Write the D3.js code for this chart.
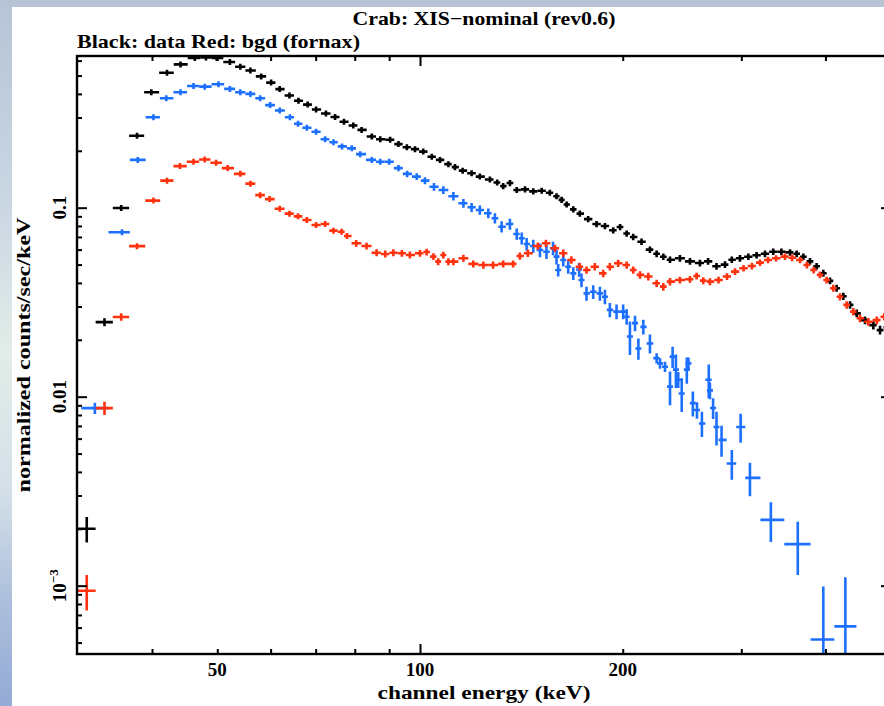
<!DOCTYPE html>
<html>
<head>
<meta charset="utf-8">
<script src="https://cdn.jsdelivr.net/npm/d3@7"></script>
<style>
  html, body { margin: 0; padding: 0; overflow: hidden; background: #fff; }
  svg { display: block; }
  text { font-family: "Liberation Serif", "DejaVu Serif", serif; font-weight: bold; fill: #000; }
</style>
</head>
<body>
<div id="chart"></div>
<script>
// values (keV, counts/sec/keV)
var blackEnergy = [32.0, 34.0, 36.0, 38.0, 39.9, 42.1, 44.1, 46.3, 48.1, 49.9,
  52.2, 54.1, 56.0, 58.1, 60.1, 61.9, 64.0, 66.0, 68.1, 70.1,
  72.5, 74.8, 77.1, 79.6, 81.9, 84.8, 87.3, 90.3, 92.9, 95.6,
  98.3, 101.1, 104.1, 107.1, 110.2, 112.7, 115.7, 119.3, 122.7, 127.0,
  130.2, 132.9, 136.0, 139.2, 143.2, 147.3, 151.6, 155.9, 159.5, 162.3,
  165.1, 168.9, 172.7, 177.7, 182.9, 188.2, 193.6, 198.2, 202.7, 207.3,
  213.3, 219.5, 224.6, 229.8, 235.1, 243.2, 251.7, 260.4, 267.8, 275.6,
  283.7, 290.4, 298.6, 307.3, 316.1, 325.3, 334.6, 344.1, 354.4, 362.5,
  370.9, 379.4, 388.1, 397.1, 406.3, 415.6, 425.2, 435.1, 445.1, 457.9,
  471.2, 482.1, 493.6];
var blackRate = [0.00200, 0.0248, 0.0996, 0.240, 0.408, 0.518, 0.573, 0.620, 0.624, 0.619,
  0.590, 0.557, 0.532, 0.495, 0.459, 0.424, 0.392, 0.368, 0.351, 0.331,
  0.315, 0.302, 0.285, 0.272, 0.258, 0.238, 0.230, 0.229, 0.217, 0.209,
  0.204, 0.198, 0.186, 0.179, 0.170, 0.164, 0.157, 0.152, 0.146, 0.141,
  0.136, 0.130, 0.135, 0.124, 0.125, 0.122, 0.123, 0.120, 0.115, 0.110,
  0.104, 0.098, 0.093, 0.087, 0.082, 0.080, 0.076, 0.079, 0.073, 0.070,
  0.066, 0.060, 0.057, 0.055, 0.053, 0.054, 0.052, 0.051, 0.052, 0.049,
  0.050, 0.053, 0.054, 0.055, 0.056, 0.057, 0.0585, 0.0585, 0.058, 0.057,
  0.055, 0.052, 0.049, 0.045, 0.041, 0.0375, 0.034, 0.0306, 0.0276, 0.0254,
  0.0239, 0.0225, 0.0233];
var blackErr = [0.00031, 0.0012, 0.0025, 0.006, 0.010, 0.012, 0.013, 0.014, 0.014, 0.014,
  0.013, 0.013, 0.012, 0.011, 0.011, 0.010, 0.009, 0.009, 0.008, 0.008,
  0.008, 0.007, 0.007, 0.007, 0.006, 0.006, 0.006, 0.006, 0.006, 0.006,
  0.006, 0.006, 0.006, 0.006, 0.006, 0.006, 0.005, 0.005, 0.005, 0.005,
  0.005, 0.005, 0.005, 0.0045, 0.0045, 0.0045, 0.0045, 0.0045, 0.0042, 0.004,
  0.0038, 0.0036, 0.0035, 0.0033, 0.0031, 0.003, 0.0029, 0.003, 0.0028, 0.0027,
  0.0026, 0.0024, 0.0023, 0.0022, 0.0021, 0.0022, 0.0021, 0.0021, 0.0021, 0.002,
  0.002, 0.0021, 0.0022, 0.0022, 0.0022, 0.0023, 0.0023, 0.0023, 0.0023, 0.0023,
  0.0022, 0.0021, 0.002, 0.0019, 0.0017, 0.0016, 0.0015, 0.0014, 0.0013, 0.0012,
  0.0012, 0.0012, 0.0012];

var blueEnergy = [32.9, 36.1, 38.1, 40.2, 42.0, 44.1, 46.1, 47.9, 50.2, 52.2,
  54.1, 56.0, 57.9, 59.9, 61.9, 64.1, 65.9, 67.9, 70.1, 72.3,
  74.4, 76.6, 79.2, 81.5, 84.8, 87.3, 90.0, 92.9, 95.7, 98.9,
  101.7, 104.9, 108.3, 112.1, 116.0, 119.3, 122.7, 126.3, 129.2, 132.2,
  136.0, 139.2, 141.6, 144.0, 147.3, 150.7, 154.1, 157.6, 159.5, 160.4,
  163.2, 166.0, 168.9, 172.3, 173.7, 176.7, 180.8, 185.0, 188.2, 191.4,
  195.8, 200.3, 202.7, 205.0, 208.6, 211.0, 214.6, 219.5, 224.6, 227.2,
  231.1, 235.1, 237.2, 239.9, 241.8, 244.7, 249.0, 250.4, 254.2, 257.8,
  262.2, 268.4, 269.5, 272.4, 275.6, 280.4, 290.4, 299.3, 309.0, 331.9,
  363.9, 397.1, 428.2];
var blueRate = [0.0087, 0.0741, 0.179, 0.301, 0.379, 0.408, 0.440, 0.437, 0.450, 0.425,
  0.408, 0.400, 0.379, 0.349, 0.327, 0.301, 0.278, 0.265, 0.252, 0.230,
  0.222, 0.211, 0.206, 0.192, 0.179, 0.175, 0.175, 0.162, 0.151, 0.146,
  0.139, 0.129, 0.124, 0.115, 0.1055, 0.1005, 0.0972, 0.0934, 0.0879, 0.0793,
  0.0820, 0.0726, 0.0689, 0.0642, 0.0627, 0.0597, 0.0585, 0.0610, 0.0551, 0.0468,
  0.0529, 0.0487, 0.0449, 0.0471, 0.0414, 0.0352, 0.0359, 0.0352, 0.0338, 0.0288,
  0.0282, 0.0282, 0.0265, 0.0208, 0.0245, 0.0180, 0.0234, 0.0191, 0.0160, 0.0150,
  0.0144, 0.0113, 0.0163, 0.0139, 0.0123, 0.0104, 0.0139, 0.0150, 0.00925, 0.00850,
  0.00721, 0.0123, 0.0108, 0.00871, 0.00691, 0.00591, 0.00443, 0.00691, 0.00372, 0.00223,
  0.00166, 0.000519, 0.000609];
var blueErr = [0.0006, 0.0025, 0.005, 0.008, 0.010, 0.010, 0.011, 0.011, 0.011, 0.011,
  0.010, 0.010, 0.010, 0.009, 0.009, 0.008, 0.008, 0.008, 0.007, 0.007,
  0.007, 0.007, 0.007, 0.006, 0.006, 0.006, 0.006, 0.006, 0.006, 0.006,
  0.006, 0.006, 0.006, 0.006, 0.0055, 0.0055, 0.0055, 0.0055, 0.0055, 0.0055,
  0.0055, 0.005, 0.005, 0.005, 0.005, 0.005, 0.005, 0.005, 0.005, 0.0035,
  0.004, 0.004, 0.0035, 0.004, 0.0035, 0.003, 0.003, 0.003, 0.003, 0.0025,
  0.0025, 0.0025, 0.0025, 0.0042, 0.0023, 0.0023, 0.0021, 0.0022, 0.0010, 0.00095,
  0.0009, 0.0023, 0.0021, 0.0028, 0.0012, 0.0021, 0.0022, 0.0011, 0.0014, 0.00085,
  0.0011, 0.0025, 0.0011, 0.0011, 0.0014, 0.0011, 0.0008, 0.0012, 0.00075, 0.00053,
  0.00052, 0.00047, 0.0005];

var redEnergy = [32.0, 34.0, 36.0, 38.0, 40.2, 42.1, 44.0, 46.1, 47.9, 49.8,
  51.8, 54.1, 56.0, 57.9, 59.8, 61.9, 64.0, 65.9, 67.9, 70.1,
  72.3, 74.4, 76.5, 77.9, 80.4, 83.3, 86.2, 88.8, 91.3, 94.0,
  96.6, 100.0, 102.3, 104.7, 106.4, 108.3, 110.2, 112.1, 116.0, 120.0,
  124.2, 128.4, 132.9, 137.5, 140.7, 144.6, 149.6, 153.8, 158.6, 163.2,
  167.8, 172.7, 176.7, 181.8, 187.1, 191.4, 196.9, 202.7, 207.3, 212.2,
  218.3, 224.6, 229.8, 235.1, 243.2, 251.7, 257.5, 263.4, 269.5, 277.5,
  285.7, 293.6, 302.3, 311.1, 319.8, 328.7, 337.8, 348.3, 357.0, 366.7,
  375.4, 384.2, 392.6, 401.6, 410.9, 420.4, 430.1, 440.0, 450.2, 463.2,
  476.8, 489.0];
var redRate = [0.00094, 0.0087, 0.0264, 0.0626, 0.109, 0.139, 0.166, 0.175, 0.180, 0.173,
  0.162, 0.151, 0.134, 0.1165, 0.111, 0.0987, 0.093, 0.090, 0.086, 0.081,
  0.082, 0.0756, 0.0746, 0.0708, 0.0648, 0.0627, 0.0578, 0.0569, 0.0578, 0.0574,
  0.0562, 0.0574, 0.0583, 0.0551, 0.0518, 0.0562, 0.0518, 0.0518, 0.0540, 0.0504,
  0.0497, 0.0497, 0.0504, 0.0504, 0.0555, 0.0574, 0.0627, 0.0648, 0.0610, 0.0574,
  0.0529, 0.0487, 0.0468, 0.0487, 0.0449, 0.0487, 0.0508, 0.0497, 0.0468, 0.0441,
  0.0432, 0.0398, 0.0382, 0.0406, 0.0414, 0.0418, 0.0435, 0.0411, 0.0406, 0.0414,
  0.0432, 0.0459, 0.0478, 0.0491, 0.0512, 0.0529, 0.0540, 0.0551, 0.0543, 0.0529,
  0.0497, 0.0468, 0.0441, 0.0414, 0.0375, 0.0338, 0.0306, 0.0282, 0.0260, 0.0249,
  0.0254, 0.0265];
var redErr = [0.0002, 0.0007, 0.0012, 0.002, 0.003, 0.0035, 0.004, 0.0045, 0.0045, 0.0045,
  0.004, 0.004, 0.004, 0.0035, 0.0035, 0.0032, 0.003, 0.003, 0.003, 0.0028,
  0.0028, 0.0027, 0.0027, 0.0026, 0.0026, 0.0026, 0.0024, 0.0024, 0.0024, 0.0024,
  0.0024, 0.0024, 0.0024, 0.0023, 0.0022, 0.0023, 0.0022, 0.0022, 0.0023, 0.0022,
  0.0022, 0.0022, 0.0022, 0.0022, 0.0025, 0.0026, 0.0028, 0.0029, 0.0027, 0.0026,
  0.0024, 0.0022, 0.0021, 0.0022, 0.0021, 0.0022, 0.0023, 0.0022, 0.0021, 0.002,
  0.002, 0.0018, 0.0018, 0.0019, 0.0017, 0.0017, 0.0018, 0.0017, 0.0017, 0.0017,
  0.0018, 0.0019, 0.0019, 0.002, 0.002, 0.0021, 0.0021, 0.0022, 0.0022, 0.0021,
  0.002, 0.0019, 0.0018, 0.0017, 0.0016, 0.0015, 0.0014, 0.0013, 0.0012, 0.0012,
  0.0012, 0.0012];

var xMajorTicks = [100];
var xMinorTicks = [40, 50, 60, 70, 80, 90, 200, 300, 400];
var xTickLabels = [50, 100, 200];
var yMajorTicks = [0.001, 0.01, 0.1];
var yMinorTicks = [0.0005, 0.0006, 0.0007, 0.0008, 0.0009,
  0.002, 0.003, 0.004, 0.005, 0.006, 0.007, 0.008, 0.009,
  0.02, 0.03, 0.04, 0.05, 0.06, 0.07, 0.08, 0.09,
  0.2, 0.3, 0.4, 0.5, 0.6];
var yTickLabels = [0.1, 0.01, 0.001];

var width = 884, height = 706;
var plot = {left: 77, top: 56, right: 891, bottom: 654};

var svg = d3.select("#chart").append("svg")
    .attr("width", width)
    .attr("height", height);

// sky backdrop behind the white slide
var defs = svg.append("defs");
var grad = defs.append("linearGradient")
    .attr("id", "sky").attr("x1", 0).attr("y1", 0).attr("x2", 0).attr("y2", 1);
[["0", "#b7c4d6"], ["0.3", "#cbd7e3"], ["0.5", "#e2ede8"], ["0.7", "#d3dfe8"], ["0.85", "#adbfdc"], ["1", "#93aad6"]]
    .forEach(function(s) { grad.append("stop").attr("offset", s[0]).attr("stop-color", s[1]); });
svg.append("rect").attr("width", width).attr("height", height).attr("fill", "url(#sky)");
svg.append("rect").attr("x", 12).attr("y", 7).attr("width", width - 12).attr("height", height - 7).attr("fill", "#fff");

// the original is a scaled bitmap, so soften the marks a little
defs.append("filter").attr("id", "soft")
  .append("feGaussianBlur").attr("stdDeviation", 0.55);

defs.append("clipPath").attr("id", "plotclip")
  .append("rect")
    .attr("x", plot.left).attr("y", plot.top)
    .attr("width", plot.right - plot.left).attr("height", plot.bottom - plot.top);

var x = d3.scaleLog().domain([30.95, 500.5]).range([plot.left, plot.right]);
var y = d3.scaleLog().domain([0.000435, 0.6347]).range([plot.bottom, plot.top]);

function makeSeries(energy, rate, err) {
    var pts = energy.map(function(e, i) { return {e: e, v: rate[i], err: err[i]}; });
    pts.forEach(function(p, i) {
        var prev = i > 0 ? Math.sqrt(pts[i - 1].e * p.e) : null;
        var next = i < pts.length - 1 ? Math.sqrt(pts[i + 1].e * p.e) : null;
        if (prev === null) prev = p.e * p.e / next;
        if (next === null) next = p.e * p.e / prev;
        p.lo = prev; p.hi = next;
    });
    return pts;
}

function crossPath(p) {
    var xc = x(p.e), yc = y(p.v);
    var xl = Math.min(x(p.lo), xc - 3), xr = Math.max(x(p.hi), xc + 3);
    var yt = Math.min(y(p.v + p.err), yc - 3);
    var yb = Math.max(y(Math.max(p.v - p.err, 1e-5)), yc + 3);
    return "M" + xl + "," + yc + "H" + xr + "M" + xc + "," + yt + "V" + yb;
}

var marks = svg.append("g").attr("clip-path", "url(#plotclip)")
  .append("g").attr("filter", "url(#soft)");

function drawSeries(pts, color) {
    marks.append("g")
      .selectAll("path")
      .data(pts)
      .enter()
      .append("path")
        .attr("d", crossPath)
        .attr("fill", "none")
        .attr("stroke", color)
        .attr("stroke-width", 2.6);
}

drawSeries(makeSeries(blackEnergy, blackRate, blackErr), "#000000");
drawSeries(makeSeries(blueEnergy, blueRate, blueErr), "#1f6fff");
drawSeries(makeSeries(redEnergy, redRate, redErr), "#ff3010");

// frame
svg.append("rect")
    .attr("x", plot.left).attr("y", plot.top)
    .attr("width", plot.right - plot.left).attr("height", plot.bottom - plot.top)
    .attr("fill", "none").attr("stroke", "#000").attr("stroke-width", 2.4);

// ticks on all four sides, pointing in
function tickAxis(axis, tx, ty, size, values) {
    var g = svg.append("g")
        .attr("transform", "translate(" + tx + "," + ty + ")")
        .call(axis.tickValues(values).tickSize(-size).tickFormat(""));
    g.select(".domain").remove();
    g.selectAll(".tick line").attr("stroke", "#000").attr("stroke-width", 2);
}
tickAxis(d3.axisBottom(x), 0, plot.bottom, 10, xMajorTicks);
tickAxis(d3.axisBottom(x), 0, plot.bottom, 5, xMinorTicks);
tickAxis(d3.axisTop(x), 0, plot.top, 10, xMajorTicks);
tickAxis(d3.axisTop(x), 0, plot.top, 5, xMinorTicks);
tickAxis(d3.axisLeft(y), plot.left, 0, 10, yMajorTicks);
tickAxis(d3.axisLeft(y), plot.left, 0, 5, yMinorTicks);
tickAxis(d3.axisRight(y), plot.right, 0, 10, yMajorTicks);
tickAxis(d3.axisRight(y), plot.right, 0, 5, yMinorTicks);

// tick labels
svg.selectAll(".xlab")
    .data(xTickLabels)
    .enter()
    .append("text")
      .attr("x", function(d) { return x(d); })
      .attr("y", 676)
      .attr("text-anchor", "middle")
      .style("font-size", "19px")
      .text(function(d) { return d; });

var ylab = svg.selectAll(".ylab")
    .data(yTickLabels)
    .enter()
    .append("text")
      .attr("transform", function(d) { return "translate(66," + y(d) + ") rotate(-90)"; })
      .attr("text-anchor", "middle")
      .style("font-size", "19px");
ylab.each(function(d) {
    var t = d3.select(this);
    if (d >= 0.01) {
        t.text(d);
    } else {
        t.append("tspan").text("10");
        t.append("tspan").attr("dy", -8).style("font-size", "13px").text("\u22123");
    }
});

// titles
svg.append("text")
    .attr("x", 484).attr("y", 25)
    .attr("text-anchor", "middle")
    .attr("textLength", 263).attr("lengthAdjust", "spacingAndGlyphs")
    .style("font-size", "19px")
    .text("Crab: XIS\u2212nominal (rev0.6)");

svg.append("text")
    .attr("x", 77).attr("y", 48)
    .attr("textLength", 283).attr("lengthAdjust", "spacingAndGlyphs")
    .style("font-size", "19px")
    .text("Black: data Red: bgd (fornax)");

svg.append("text")
    .attr("x", 484).attr("y", 699)
    .attr("text-anchor", "middle")
    .attr("textLength", 213).attr("lengthAdjust", "spacingAndGlyphs")
    .style("font-size", "19px")
    .text("channel energy (keV)");

svg.append("text")
    .attr("transform", "translate(30,355) rotate(-90)")
    .attr("text-anchor", "middle")
    .attr("textLength", 275).attr("lengthAdjust", "spacingAndGlyphs")
    .style("font-size", "19px")
    .text("normalized counts/sec/keV");
</script>
</body>
</html>
